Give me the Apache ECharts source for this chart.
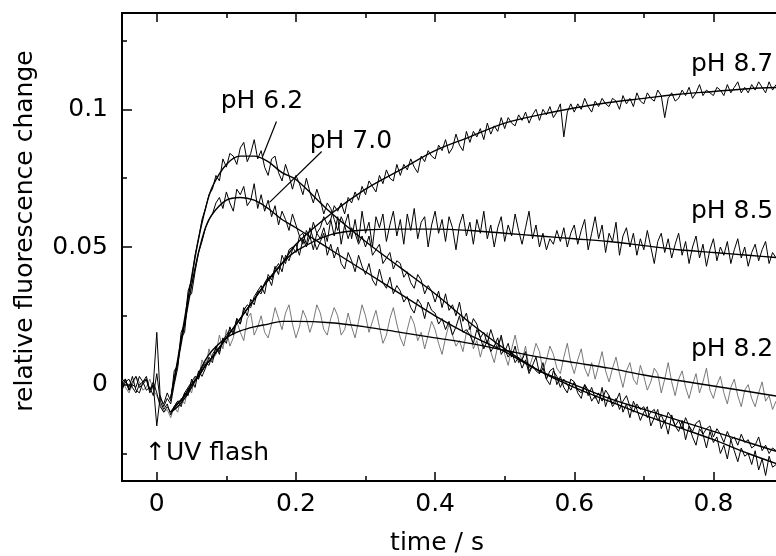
<!DOCTYPE html>
<html><head><meta charset="utf-8">
<script src="https://cdn.jsdelivr.net/npm/echarts@6/dist/echarts.min.js"></script>
<style>html,body{margin:0;padding:0;background:#fff}#c{width:776px;height:556px}</style>
</head><body><div id="c"></div>
<script>
// time axis of the recorded traces (s)
const noisyTime = [
-0.05,-0.045,-0.04,-0.035,-0.03,-0.025,-0.02,-0.015,-0.01,-0.005,
0,0.005,0.01,0.015,0.02,0.025,0.03,0.035,0.04,0.045,
0.05,0.055,0.06,0.065,0.07,0.075,0.08,0.085,0.09,0.095,
0.1,0.105,0.11,0.115,0.12,0.125,0.13,0.135,0.14,0.145,
0.15,0.155,0.16,0.165,0.17,0.175,0.18,0.185,0.19,0.195,
0.2,0.205,0.21,0.215,0.22,0.225,0.23,0.235,0.24,0.245,
0.25,0.255,0.26,0.265,0.27,0.275,0.28,0.285,0.29,0.295,
0.3,0.305,0.31,0.315,0.32,0.325,0.33,0.335,0.34,0.345,
0.35,0.355,0.36,0.365,0.37,0.375,0.38,0.385,0.39,0.395,
0.4,0.405,0.41,0.415,0.42,0.425,0.43,0.435,0.44,0.445,
0.45,0.455,0.46,0.465,0.47,0.475,0.48,0.485,0.49,0.495,
0.5,0.505,0.51,0.515,0.52,0.525,0.53,0.535,0.54,0.545,
0.55,0.555,0.56,0.565,0.57,0.575,0.58,0.585,0.59,0.595,
0.6,0.605,0.61,0.615,0.62,0.625,0.63,0.635,0.64,0.645,
0.65,0.655,0.66,0.665,0.67,0.675,0.68,0.685,0.69,0.695,
0.7,0.705,0.71,0.715,0.72,0.725,0.73,0.735,0.74,0.745,
0.75,0.755,0.76,0.765,0.77,0.775,0.78,0.785,0.79,0.795,
0.8,0.805,0.81,0.815,0.82,0.825,0.83,0.835,0.84,0.845,
0.85,0.855,0.86,0.865,0.87,0.875,0.88,0.885,0.89];

// recorded traces, relative fluorescence change in units of 1e-3
const trace62 = [
2,1,-1,3,-2,-3,1,2,-3,0,
19,-5,-7,-3,-6,5,7,19,22,34,
38,47,53,60,64,69,71,76,74,82,
79,84,83,80,86,88,81,84,89,82,
85,79,76,82,83,77,74,80,76,71,
76,73,69,75,70,66,71,67,62,66,
64,60,56,61,58,53,57,55,51,54,
50,54,47,49,51,44,46,48,42,45,
44,39,41,37,35,40,38,33,36,34,
30,34,28,33,27,29,25,30,23,26,
20,24,22,17,19,15,20,16,13,18,
12,15,10,14,8,9,12,5,7,10,
4,8,2,5,6,0,3,-1,-3,2,
1,-3,-5,0,-2,-6,-4,-7,-1,-8,
-4,-8,-6,-3,-10,-7,-12,-6,-9,-13,
-10,-8,-15,-12,-9,-16,-13,-18,-11,-15,
-17,-13,-20,-15,-19,-22,-16,-18,-23,-17,
-21,-19,-25,-22,-27,-20,-24,-28,-23,-26,
-25,-29,-24,-31,-27,-33,-26,-30,-29];
const trace70 = [
-2,1,2,-1,-3,0,1,3,-2,0,
-15,-4,-8,-5,-7,0,6,17,19,32,
33,41,48,52,57,60,62,66,68,64,
70,66,63,71,69,72,65,67,73,64,
69,63,67,61,65,58,63,60,56,62,
58,54,55,51,57,53,49,52,55,47,
51,46,50,44,42,48,45,41,47,43,
40,44,38,36,42,37,35,39,33,36,
34,30,32,28,26,31,29,24,30,27,
26,22,24,20,23,18,21,25,19,20,
18,15,20,17,13,16,12,14,17,11,
13,10,12,8,10,6,9,4,7,5,
4,6,2,0,5,3,-1,2,0,-2,
1,-2,-3,0,-4,-1,-5,-3,-6,-2,
-4,-7,-5,-9,-6,-4,-8,-10,-7,-9,
-8,-12,-10,-9,-13,-11,-14,-10,-12,-15,
-13,-16,-12,-15,-17,-14,-13,-18,-16,-15,
-19,-16,-18,-21,-17,-20,-19,-22,-18,-21,
-20,-23,-22,-19,-24,-22,-25,-23,-24];
const trace87 = [
1,2,-2,0,-1,3,1,-2,-1,-4,
4,-6,-9,-7,-11,-8,-6,-8,-3,-4,
2,-1,5,3,6,10,8,14,11,17,
15,21,18,24,22,28,25,31,29,34,
36,33,40,38,43,40,47,44,49,50,
48,54,51,56,53,59,55,57,61,58,
60,65,63,66,62,68,66,70,67,72,
69,74,72,70,76,73,78,75,74,80,
76,80,78,82,79,77,83,81,85,83,
82,87,85,89,84,86,91,87,85,92,
88,92,90,93,89,95,91,94,92,97,
93,97,95,94,98,96,99,95,98,100,
96,100,98,101,97,99,102,90,99,102,
99,102,100,104,101,99,103,101,104,102,
101,104,103,100,105,102,104,101,106,103,
102,106,104,103,107,105,97,104,106,103,
104,107,105,108,104,106,109,105,107,106,
105,108,107,105,109,106,108,110,106,108,
106,109,107,110,108,106,110,107,109];
const trace85 = [
-1,2,-2,1,3,-1,0,2,-2,1,
-3,-8,-10,-8,-10,-8,-6,-6,-3,-1,
1,3,2,6,8,7,11,13,12,16,
18,20,19,24,22,27,29,28,32,34,
33,37,39,36,42,44,41,47,45,49,
51,47,53,50,54,49,55,53,57,52,
60,54,61,51,58,62,53,60,52,63,
55,59,50,61,57,62,52,58,63,54,
60,51,62,56,64,53,59,61,50,58,
63,55,60,52,61,57,49,58,62,54,
59,51,60,55,63,53,58,50,57,61,
52,58,54,62,56,51,57,63,53,58,
50,55,49,53,51,56,52,57,50,55,
58,51,56,60,49,55,61,53,58,48,
55,52,59,47,54,57,50,55,47,53,
49,56,50,44,52,55,48,53,46,51,
55,47,52,44,50,54,46,51,43,49,
53,45,50,47,52,44,49,53,46,50,
43,48,51,45,49,52,44,48,46];
const trace82 = [
2,-1,-3,0,3,1,-2,-1,2,-2,
-4,-7,-10,-9,-12,-8,-10,-5,-7,-1,
-3,3,2,9,6,13,9,11,18,13,
20,14,17,23,19,16,24,26,18,21,
25,19,17,22,28,24,20,26,29,22,
17,21,27,24,19,23,29,26,20,18,
24,28,25,18,20,26,21,17,23,29,
25,19,23,27,21,15,18,24,28,22,
17,14,20,25,22,16,19,13,18,23,
20,15,11,17,22,18,14,16,12,19,
21,13,16,10,15,19,12,8,14,17,
11,7,13,18,12,9,14,6,10,15,
12,5,9,14,11,6,4,10,15,8,
4,9,13,6,3,8,2,7,12,5,
1,6,10,4,-1,5,8,2,0,7,
3,-2,1,6,4,-3,2,8,1,-4,
2,5,-1,-5,0,4,-3,1,6,-2,
-5,0,3,-3,-7,-1,2,-4,-8,-2,
0,-5,-8,-3,1,-6,-4,-9,-6];

// fitted curves
const fitTime = [0.02,0.03,0.04,0.05,0.06,0.07,0.08,0.10,0.12,0.14,0.16,0.18,0.20,0.25,0.30,0.35,0.40,0.45,0.50,0.55,0.60,0.65,0.70,0.75,0.80,0.85,0.90];
const fit62 = [-0.005,0.009,0.024,0.039,0.053,0.064,0.072,0.080,0.083,0.083,0.081,0.077,0.0745,0.0625,0.052,0.0425,0.033,0.0225,0.013,0.005,-0.001,-0.006,-0.011,-0.0155,-0.020,-0.025,-0.0295];
const fit70 = [-0.005,0.008,0.022,0.036,0.048,0.057,0.062,0.067,0.068,0.067,0.064,0.060,0.057,0.049,0.041,0.033,0.025,0.018,0.012,0.005,0.000,-0.005,-0.009,-0.013,-0.017,-0.021,-0.025];
const fit87 = [-0.010,-0.007,-0.004,0.000,0.003,0.007,0.010,0.017,0.024,0.031,0.038,0.044,0.051,0.062,0.071,0.078,0.085,0.090,0.095,0.098,0.1005,0.1025,0.104,0.1055,0.1065,0.1075,0.108];
const fit85 = [-0.010,-0.007,-0.004,0.000,0.003,0.007,0.010,0.017,0.024,0.031,0.038,0.044,0.0485,0.0545,0.0562,0.0565,0.0565,0.056,0.055,0.054,0.053,0.052,0.0505,0.049,0.048,0.047,0.046];
const fit82 = [-0.010,-0.008,-0.005,-0.001,0.004,0.009,0.0125,0.017,0.0195,0.021,0.022,0.023,0.023,0.0225,0.021,0.019,0.017,0.015,0.0125,0.010,0.008,0.006,0.0035,0.0015,-0.0005,-0.0025,-0.0045];

// ticks
const xMajorTicks = [0,0.2,0.4,0.6,0.8];
const xMinorTicks = [0.1,0.3,0.5,0.7];
const yMajorTicks = [0,0.05,0.1];
const yMinorTicks = [-0.025,0.025,0.075,0.125];

const xName = 'time / s';
const yName = 'relative fluorescence change';
const seriesLabels = ['pH 6.2','pH 7.0','pH 8.7','pH 8.5','pH 8.2'];
const flashLabel = '\u2191UV flash';

const FONT = 'DejaVu Sans';
const FS = 25;
const BLACK = '#000';

function pairs(ts, vs, scale) { return ts.map((t, i) => [t, vs[i] * scale]); }

function xAxisDef(pos, ticks, len, labels) {
  return {
    type: 'value', position: pos, min: -0.05, max: 0.9,
    axisLine: { show: true, onZero: false, lineStyle: { color: BLACK, width: 2 } },
    axisTick: { show: true, inside: true, length: len, customValues: ticks, lineStyle: { color: BLACK, width: 1.5 } },
    axisLabel: labels ? { show: true, customValues: ticks, color: BLACK, fontFamily: FONT, fontSize: FS, margin: 11 } : { show: false },
    splitLine: { show: false }
  };
}
function yAxisDef(ticks, len, labels) {
  return {
    type: 'value', position: 'left', min: -0.035, max: 0.135,
    axisLine: { show: true, onZero: false, lineStyle: { color: BLACK, width: 2 } },
    axisTick: { show: true, inside: true, length: len, customValues: ticks, lineStyle: { color: BLACK, width: 1.5 } },
    axisLabel: labels ? { show: true, customValues: ticks, color: BLACK, fontFamily: FONT, fontSize: FS, margin: 14,
      formatter: v => (v === 0 ? '0' : String(v)) } : { show: false },
    splitLine: { show: false }
  };
}

function noisy(name, vals, color, w) {
  return { name, type: 'line', xAxisIndex: 0, yAxisIndex: 0, data: pairs(noisyTime, vals, 0.001),
    symbol: 'none', showSymbol: false, lineStyle: { color, width: w }, itemStyle: { color }, z: 2, silent: true };
}
function fit(name, vals) {
  return { name, type: 'line', xAxisIndex: 0, yAxisIndex: 0, data: pairs(fitTime, vals, 1),
    symbol: 'none', showSymbol: false, smooth: 0.35, lineStyle: { color: BLACK, width: 1.4 }, z: 3, silent: true };
}

const chart = echarts.init(document.getElementById('c'), null, { renderer: 'canvas' });
chart.setOption({
  animation: false,
  backgroundColor: '#fff',
  grid: { left: 122, top: 13, width: 661, height: 468, containLabel: false, outerBoundsMode: 'none' },
  xAxis: [
    xAxisDef('bottom', xMajorTicks, 9, true),
    xAxisDef('bottom', xMinorTicks, 5, false),
    xAxisDef('top', xMajorTicks, 9, false),
    xAxisDef('top', xMinorTicks, 5, false)
  ],
  yAxis: [
    yAxisDef(yMajorTicks, 10, true),
    yAxisDef(yMinorTicks, 5, false)
  ],
  series: [
    noisy('pH 8.2 data', trace82, '#6a6a6a', 0.9),
    noisy('pH 8.5 data', trace85, BLACK, 1),
    noisy('pH 8.7 data', trace87, BLACK, 1),
    noisy('pH 7.0 data', trace70, BLACK, 1),
    noisy('pH 6.2 data', trace62, BLACK, 1),
    fit('pH 8.2 fit', fit82),
    fit('pH 8.5 fit', fit85),
    fit('pH 8.7 fit', fit87),
    fit('pH 7.0 fit', fit70),
    fit('pH 6.2 fit', fit62)
  ]
});

// annotations placed in data coordinates
function px(t, v) { return chart.convertToPixel({ gridIndex: 0 }, [t, v]); }
const txt = (text, p, align) => ({ type: 'text', x: p[0], y: p[1], z: 10,
  style: { text, fill: BLACK, font: FS + 'px "' + FONT + '"', textAlign: align, textVerticalAlign: 'middle' } });
const seg = (a, b) => ({ type: 'line', z: 10, shape: { x1: a[0], y1: a[1], x2: b[0], y2: b[1] }, style: { stroke: BLACK, lineWidth: 1.2 } });

const graphics = [
  txt(seriesLabels[0], px(0.151, 0.1029), 'center'),
  seg(px(0.172, 0.0956), px(0.152, 0.0829)),
  txt(seriesLabels[1], px(0.279, 0.0884), 'center'),
  seg(px(0.237, 0.0847), px(0.162, 0.0662)),
  txt(seriesLabels[2], px(0.886, 0.1164), 'right'),
  txt(seriesLabels[3], px(0.886, 0.0629), 'right'),
  txt(seriesLabels[4], px(0.886, 0.0127), 'right'),
  txt(flashLabel, px(-0.017, -0.0249), 'left'),
  { type: 'text', x: 437, y: 543, style: { text: xName, fill: BLACK, font: FS + 'px "' + FONT + '"', textAlign: 'center', textVerticalAlign: 'middle' } },
  { type: 'text', x: 25, y: 231, rotation: Math.PI / 2, style: { text: yName, fill: BLACK, font: FS + 'px "' + FONT + '"', textAlign: 'center', textVerticalAlign: 'middle' } }
];
chart.setOption({ graphic: graphics });
</script>
</body></html>
